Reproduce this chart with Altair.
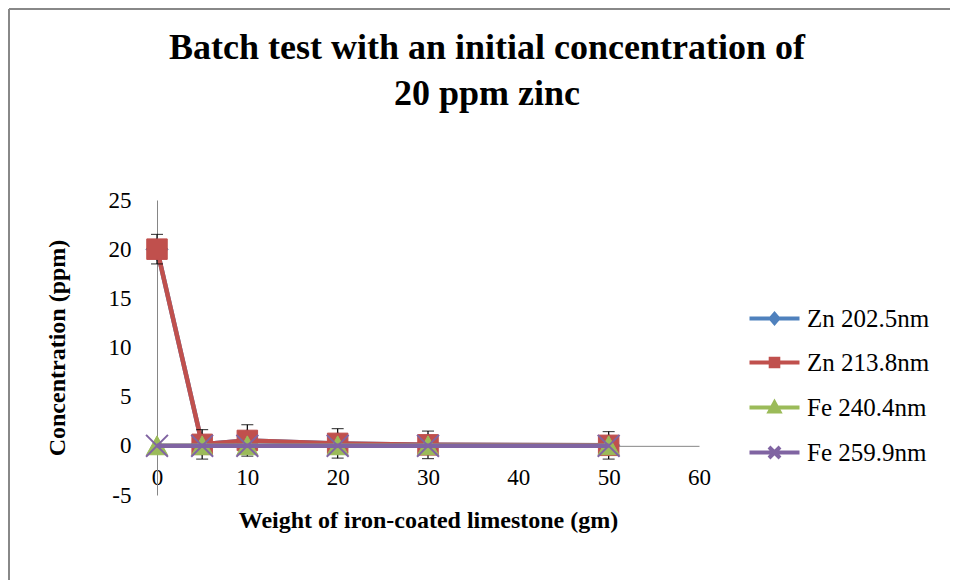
import altair as alt
import pandas as pd

# data
weights = [0, 5, 10, 20, 30, 50]
series_names = ["Zn 202.5nm", "Zn 213.8nm", "Fe 240.4nm", "Fe 259.9nm"]
zn_202 = [20.0, 0.15, 0.55, 0.25, 0.1, 0.05]
zn_213 = [20.0, 0.15, 0.55, 0.25, 0.1, 0.05]
fe_240 = [0.0, 0.0, 0.0, 0.0, 0.0, 0.0]
fe_259 = [0.0, 0.0, 0.0, 0.0, 0.0, 0.0]
zn_err = [1.5, 1.5, 1.6, 1.5, 1.4, 1.4]

x_ticks = [0, 10, 20, 30, 40, 50, 60]
y_ticks = [-5, 0, 5, 10, 15, 20, 25]

colors = ["#4F81BD", "#C0504D", "#9BBB59", "#8064A2"]
marker_paths = [
    "M0,-1L1,0L0,1L-1,0Z",
    "M-1,-1H1V1H-1Z",
    "M0,-0.95L1,0.85H-1Z",
    "M-1,-1L1,1M-1,1L1,-1",
]
marker_sizes = [500, 420, 440, 480]
legend_paths = [
    "M-2.5,0H2.5M0,-0.45L0.38,0L0,0.45L-0.38,0Z",
    "M-2.5,0H2.5M-0.38,-0.38H0.38V0.38H-0.38Z",
    "M-2.5,0H2.5M0,-0.48L0.48,0.4H-0.48Z",
    "M-2.5,0H2.5M-0.55,-0.55L0.55,0.55M-0.55,0.55L0.55,-0.55",
]

serif = "Liberation Serif"
W, H = 542, 295

rows = []
for name, vals in zip(series_names, [zn_202, zn_213, fe_240, fe_259]):
    for w, v in zip(weights, vals):
        rows.append({"series": name, "weight": w, "conc": v})
df = pd.DataFrame(rows)

err_df = pd.DataFrame({
    "weight": weights,
    "lo": [v - e for v, e in zip(zn_213, zn_err)],
    "hi": [v + e for v, e in zip(zn_213, zn_err)],
})

x_enc = alt.X(
    "weight:Q",
    scale=alt.Scale(domain=[0, 60], nice=False),
    axis=alt.Axis(
        values=x_ticks, offset=-H * 5 / 30, ticks=False, tickSize=0, grid=False,
        domainColor="#868686", domainWidth=1,
        labelFont=serif, labelFontSize=23, labelColor="black", labelPadding=21,
        labelFlush=False, labelOverlap=False, labelExpr="'' + datum.value",
        title="Weight of iron-coated limestone (gm)", titleFont=serif, titleFontSize=24,
        titleFontWeight="bold", titleColor="black", titleY=75, titleBaseline="middle",
    ),
)
y_enc = alt.Y(
    "conc:Q",
    scale=alt.Scale(domain=[-5, 25], nice=False),
    axis=alt.Axis(
        values=y_ticks, ticks=False, tickSize=0, grid=False,
        domainColor="#868686", domainWidth=1,
        labelFont=serif, labelFontSize=23, labelColor="black", labelPadding=26,
        labelFlush=False, labelOverlap=False, labelExpr="'' + datum.value",
        title="Concentration (ppm)", titleFont=serif, titleFontSize=24,
        titleFontWeight="bold", titleColor="black", titleAngle=270,
        titleX=-100, titleY=H / 2, titleBaseline="middle",
    ),
)

one = pd.DataFrame({"a": [0]})
frame_top = alt.Chart(one).mark_rule(color="#888888", strokeWidth=2).encode(
    x=alt.value(-148), x2=alt.value(942 - 149), y=alt.value(-191)
)
frame_left = alt.Chart(one).mark_rule(color="#888888", strokeWidth=2).encode(
    x=alt.value(-148), y=alt.value(-191), y2=alt.value(572 - 192)
)

err_rule = alt.Chart(err_df).mark_rule(color="black", strokeWidth=1.2).encode(
    x="weight:Q", y="lo:Q", y2="hi:Q"
)
err_lo = alt.Chart(err_df).mark_tick(color="black", size=12, thickness=1.2, orient="horizontal").encode(
    x="weight:Q", y="lo:Q"
)
err_hi = alt.Chart(err_df).mark_tick(color="black", size=12, thickness=1.2, orient="horizontal").encode(
    x="weight:Q", y="hi:Q"
)

layers = [frame_top, frame_left]
for i, name in enumerate(series_names):
    base = alt.Chart(df).transform_filter(alt.datum.series == name)
    line = base.mark_line(color=colors[i], strokeWidth=4.5).encode(x=x_enc, y=y_enc)
    if i == 1:
        layers += [line, err_rule, err_lo, err_hi]
    else:
        layers.append(line)
    pts = base.mark_point(
        filled=True, fill=colors[i], stroke=colors[i],
        strokeWidth=2 if i == 3 else 1, opacity=1,
        shape=marker_paths[i], size=marker_sizes[i],
    ).encode(x=x_enc, y=y_enc)
    layers.append(pts)

leg = alt.Legend(
    orient="none", legendX=605, legendY=106, title=None, padding=0,
    labelFont=serif, labelFontSize=25, labelColor="black", labelOffset=20,
    symbolSize=400, symbolStrokeWidth=4, rowPadding=18,
)
legend_layer = alt.Chart(df).transform_filter("false").mark_point(filled=True, opacity=1).encode(
    x=x_enc, y=y_enc,
    fill=alt.Fill("series:N", scale=alt.Scale(domain=series_names, range=colors), legend=leg),
    stroke=alt.Stroke("series:N", scale=alt.Scale(domain=series_names, range=colors), legend=leg),
    shape=alt.Shape("series:N", scale=alt.Scale(domain=series_names, range=legend_paths), legend=leg),
)
layers.append(legend_layer)

chart = alt.layer(*layers).properties(
    width=W, height=H,
    autosize=alt.AutoSizeParams(type="none"),
    padding={"left": 149, "top": 192, "right": 251, "bottom": 85},
    title=alt.TitleParams(
        ["Batch test with an initial concentration of", "20 ppm zinc"],
        font=serif, fontSize=36, fontWeight="bold", color="black",
        anchor="middle", dx=59, offset=-141, baseline="bottom", lineHeight=46,
    ),
).configure_view(stroke=None)

chart.save("out.html", embed_options={"renderer": "svg", "actions": False})
